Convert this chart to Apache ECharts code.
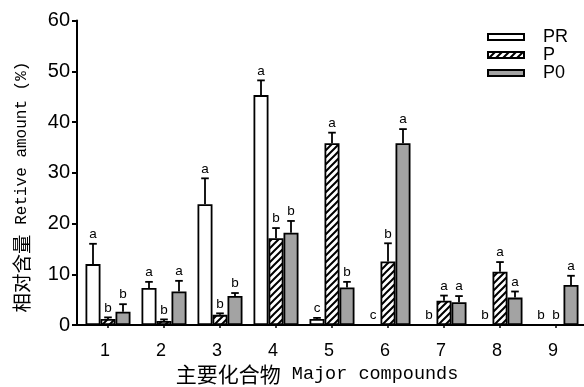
<!DOCTYPE html>
<html><head><meta charset="utf-8">
<script src="https://cdn.jsdelivr.net/npm/echarts@6/dist/echarts.min.js"></script>
<style>html,body{margin:0;padding:0;background:#fff}#c{width:584px;height:387px}</style>
</head><body><div id="c"></div>
<script>
const categories = ['1','2','3','4','5','6','7','8','9'];
const seriesNames = ['PR','P','P0'];
const PR     = [12.0, 7.3, 23.8, 45.3, 1.2, 0, 0, 0, 0];
const PR_err = [4.0, 1.2, 5.1, 2.9, 0.2, 0, 0, 0, 0];
const P      = [1.2, 0.8, 2.0, 17.1, 35.8, 12.5, 4.8, 10.5, 0];
const P_err  = [0.3, 0.3, 0.3, 2.0, 2.1, 3.6, 1.0, 1.9, 0];
const P0     = [2.6, 6.6, 5.7, 18.2, 7.4, 35.8, 4.5, 5.4, 7.9];
const P0_err = [1.5, 2.1, 0.6, 2.3, 1.1, 2.8, 1.2, 1.2, 1.8];
const PR_sig = ['a','a','a','a','c','c','b','b','b'];
const P_sig  = ['b','b','b','b','a','b','a','a','b'];
const P0_sig = ['b','a','b','b','b','a','a','a','a'];
const yTicks = [0, 60, 10];

const BAR_W = 15;

// hatch pattern
const tile = document.createElement('canvas');
const S = 7;
tile.width = S; tile.height = S;
const tc = tile.getContext('2d');
tc.fillStyle = '#fff'; tc.fillRect(0,0,S,S);
tc.strokeStyle = '#000'; tc.lineWidth = 2;
tc.beginPath();
tc.moveTo(0, S); tc.lineTo(S, 0);
tc.moveTo(-S/2, S/2); tc.lineTo(S/2, -S/2);
tc.moveTo(S/2, S*1.5); tc.lineTo(S*1.5, S/2);
tc.stroke();
const hatch = { image: tile, repeat: 'repeat' };

const values = [PR, P, P0];
const errs = [PR_err, P_err, P0_err];
const sigs = [PR_sig, P_sig, P0_sig];
const fills = ['#ffffff', hatch, '#a3a3a3'];

const errData = [];
const errLetters = [];
for (let s = 0; s < 3; s++) {
  for (let i = 0; i < categories.length; i++) {
    errData.push([i, values[s][i], errs[s][i], s]);
    errLetters.push(sigs[s][i]);
  }
}

const chart = echarts.init(document.getElementById('c'), null, {renderer: 'canvas'});

const barSeries = seriesNames.map((n, s) => ({
  name: n, type: 'bar', data: values[s], barWidth: BAR_W, barGap: '0%',
  itemStyle: { color: fills[s], borderColor: '#000', borderWidth: 1.8 },
  silent: true, z: 2
}));

const option = {
  animation: false,
  backgroundColor: '#fff',
  grid: { left: 80, right: -2, top: 20.5, bottom: 62 },
  legend: {
    data: seriesNames, orient: 'vertical', left: 487, top: 28, padding: 0,
    itemWidth: 36, itemHeight: 6, itemGap: 0, icon: 'rect',
    textStyle: { fontSize: 18, lineHeight: 17, color: '#000', fontFamily: 'Liberation Sans Narrow, Liberation Sans, sans-serif', padding: [0,0,0,14] }
  },
  xAxis: {
    type: 'category', data: categories,
    axisLine: { lineStyle: { color: '#000', width: 2 } },
    axisTick: { show: true, alignWithLabel: true, length: 3, lineStyle: { color: '#000', width: 1.5 } },
    axisLabel: { color: '#000', fontSize: 18, fontFamily: 'Liberation Sans, sans-serif', margin: 17, padding: [0,6,0,0] },
    splitLine: { show: false }
  },
  yAxis: {
    type: 'value', min: yTicks[0], max: yTicks[1], interval: yTicks[2], offset: 3,
    axisLine: { show: true, lineStyle: { color: '#000', width: 2 } },
    axisTick: { show: true, length: 5, lineStyle: { color: '#000', width: 2 } },
    axisLabel: { color: '#000', fontSize: 20, fontFamily: 'Liberation Sans, sans-serif', margin: 7 },
    splitLine: { show: false }
  },
  graphic: [
    { type: 'line', shape: { x1: 76, y1: 325, x2: 82, y2: 325 }, style: { stroke: '#000', lineWidth: 2 }, z: 10 },
    { type: 'text', x: 317, y: 374, z: 10,
      style: { text: '{cn|主要化合物}{en| Major compounds}', align: 'center', verticalAlign: 'middle',
        rich: { cn: { fontSize: 21, fontFamily: 'Noto Sans CJK SC', fill: '#000' },
                en: { fontSize: 18.5, fontFamily: 'Liberation Mono, DejaVu Sans Mono, monospace', fill: '#000' } } } },
    { type: 'text', x: 22, y: 187, rotation: Math.PI / 2, z: 10,
      style: { text: '{cn|相对含量}{en| Retive amount (%)}', align: 'center', verticalAlign: 'middle',
        rich: { cn: { fontSize: 19.5, fontFamily: 'Noto Sans CJK SC', fill: '#000' },
                en: { fontSize: 16, fontFamily: 'Liberation Mono, DejaVu Sans Mono, monospace', fill: '#000' } } } }
  ],
  series: barSeries.concat([{
    type: 'custom', name: 'err', data: errData, z: 5, silent: true, clip: false,
    encode: { x: 0, y: 1 },
    renderItem: function (params, api) {
      const cat = api.value(0), v = api.value(1), e = api.value(2), s = api.value(3);
      const p = api.coord([cat, v]);
      const x = p[0] + (s - 1) * BAR_W;
      const yTop = api.coord([cat, v + e])[1];
      const children = [];
      if (e > 0) {
        children.push({ type: 'line', shape: { x1: x, y1: p[1], x2: x, y2: yTop }, style: { stroke: '#000', lineWidth: 1.8 } });
        children.push({ type: 'line', shape: { x1: x - 3.8, y1: yTop, x2: x + 3.8, y2: yTop }, style: { stroke: '#000', lineWidth: 1.8 } });
      }
      children.push({ type: 'text', x: x, y: yTop - 2.5,
        style: { text: errLetters[params.dataIndex], align: 'center', verticalAlign: 'bottom', fontSize: 13.5, fontFamily: 'Liberation Sans, sans-serif', fill: '#000' } });
      return { type: 'group', children: children };
    }
  }])
};
chart.setOption(option);
</script>
</body></html>
